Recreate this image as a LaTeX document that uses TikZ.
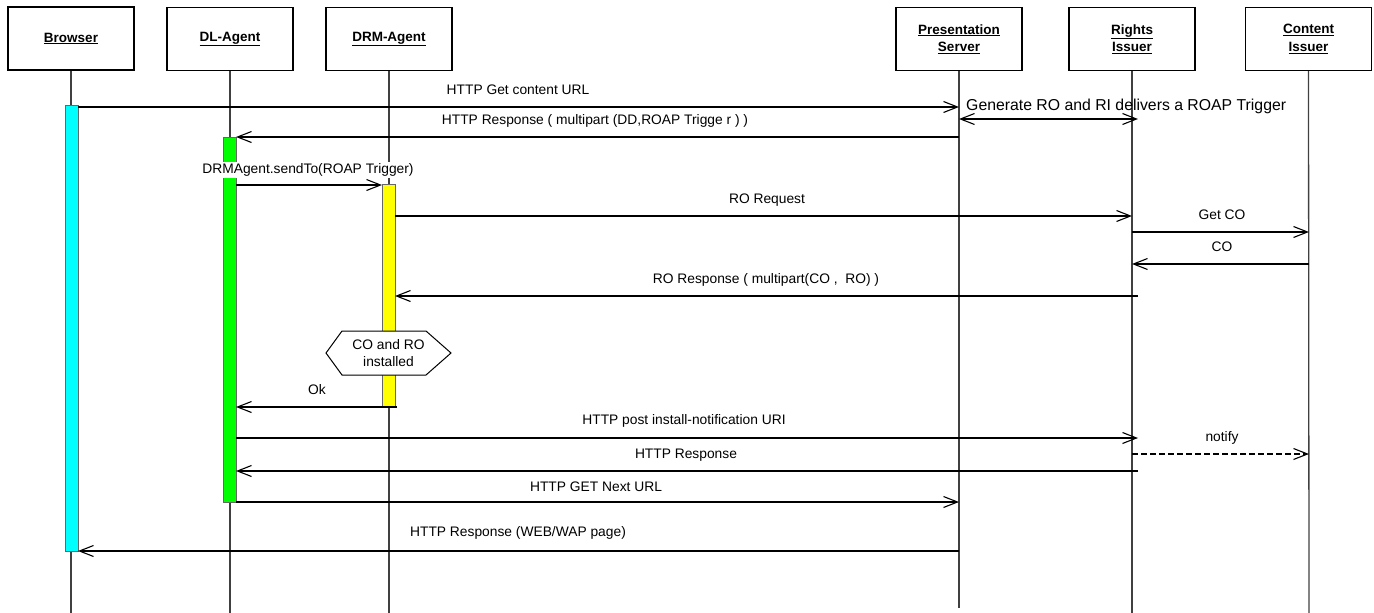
\documentclass[tikz,border=0pt]{standalone}
\usepackage{fontspec}
\setmainfont{Liberation Sans}
\usetikzlibrary{arrows.meta}
\definecolor{barcyan}{RGB}{0,255,255}
\definecolor{bargreen}{RGB}{0,255,0}
\definecolor{baryellow}{RGB}{255,255,0}
\begin{document}
\begin{tikzpicture}[x=1pt,y=-1pt,
  head/.style={draw, line width=1.2pt, minimum width=126pt, minimum height=63pt, inner sep=0pt, align=center, font=\fontsize{13.5}{17.5}\selectfont\bfseries},
  life/.style={draw=black!75, line width=1.3pt},
  msg/.style={line width=1.1pt, -{Straight Barb[length=14pt,width=11pt]}},
  dmsg/.style={line width=1.1pt, {Straight Barb[length=14pt,width=11pt]}-{Straight Barb[length=14pt,width=11pt]}},
  dashmsg/.style={line width=2pt, dash pattern=on 6pt off 3pt, -{Straight Barb[length=14pt,width=11pt,line width=1.1pt]}},
  lbl/.style={font=\fontsize{13.8}{16}\selectfont, inner sep=0pt},
  biglbl/.style={font=\fontsize{15.8}{18}\selectfont, inner sep=0pt},
  actbar/.style={draw=black!60, line width=1pt, minimum width=13pt, inner sep=0pt}]
\useasboundingbox (0,0) rectangle (1374,613);

% heads
\node[head] (br) at (71,38.5) {\underline{Browser}};
\node[head] (dl) at (230,39) {\underline{DL-Agent}};
\node[head] (drm) at (389,39) {\underline{DRM-Agent}};
\node[head] (ps) at (959,39) {\underline{Presentation}\\\underline{Server}};
\node[head] (ri) at (1132,39) {\underline{Rights}\\\underline{Issuer}};
\node[head] (ci) at (1308.5,39) {\underline{Content}\\\underline{Issuer}};

% lifeline ends
\coordinate (brE) at (71,613);
\coordinate (dlE) at (230,613);
\coordinate (drmE) at (389,613);
\coordinate (psE) at (959,608);
\coordinate (riE) at (1132,613);
\coordinate (ciE) at (1309,613);
\draw[life] (br.south) -- (brE);
\draw[life] (dl.south) -- (dlE);
\draw[life] (drm.south) -- (drmE);
\draw[life] (ps.south) -- (psE);
\draw[life] (ri.south) -- (riE);
\draw[life] (ci.south) -- (ciE);

% activation bars
\node[actbar, fill=barcyan, minimum height=446pt] (barB) at (71.5,328) {};
\node[actbar, fill=bargreen, minimum height=365pt] (barD) at (229.5,319.5) {};
\node[actbar, fill=baryellow, minimum height=223pt] (barR) at (388.5,295.5) {};

% message end points
\coordinate (m1s) at (78,107);   \coordinate (m1e) at (959,107);
\coordinate (m2s) at (959,119);  \coordinate (m2e) at (1138,119);
\coordinate (m3s) at (959,137);  \coordinate (m3e) at (236,137);
\coordinate (m4s) at (236,185);  \coordinate (m4e) at (382,185);
\coordinate (m5s) at (395,216);  \coordinate (m5e) at (1132,216);
\coordinate (m6s) at (1132,232); \coordinate (m6e) at (1309,232);
\coordinate (m7s) at (1309,264); \coordinate (m7e) at (1132,264);
\coordinate (m8s) at (1138,296); \coordinate (m8e) at (395,296);
\coordinate (m10s) at (397,407); \coordinate (m10e) at (236,407);
\coordinate (m11s) at (236,438); \coordinate (m11e) at (1138,438);
\coordinate (m12s) at (1132,454); \coordinate (m12e) at (1309,454);
\coordinate (m13s) at (1138,471); \coordinate (m13e) at (236,471);
\coordinate (m14s) at (236,502); \coordinate (m14e) at (959,502);
\coordinate (m15s) at (959,551); \coordinate (m15e) at (78,551);

% messages
\draw[msg] (m1s) -- (m1e);
\node[lbl] (l1) at (518,90) {HTTP Get content URL};
\draw[dmsg] (m2s) -- (m2e);
\node[biglbl, anchor=west] (l2) at (966,106) {Generate RO and RI delivers a ROAP Trigger};
\draw[msg] (m3s) -- (m3e);
\node[lbl] (l3) at (595,121) {HTTP Response ( multipart (DD,ROAP Trigge r ) )};
\draw[msg] (m4s) -- (m4e);
\node[lbl, fill=white, inner xsep=1pt, inner ysep=2pt] (l4) at (308,170) {DRMAgent.sendTo(ROAP Trigger)};
\draw[msg] (m5s) -- (m5e);
\node[lbl] (l5) at (767,200) {RO Request};
\draw[msg] (m6s) -- (m6e);
\node[lbl] (l6) at (1222,215) {Get CO};
\draw[msg] (m7s) -- (m7e);
\node[lbl] (l7) at (1222,247) {CO};
\draw[msg] (m8s) -- (m8e);
\node[lbl] (l8) at (766,280) {RO Response ( multipart(CO ,\ \ RO) )};

% state hexagon
\draw[line width=1pt, fill=white] (326,353) -- (342,331) -- (426,331) -- (451,353) -- (426,375) -- (342,375) -- cycle;
\node[lbl, align=center, font=\fontsize{13.8}{17}\selectfont] (st) at (388.5,353) {CO and RO\\installed};

\draw[msg] (m10s) -- (m10e);
\node[lbl] (l10) at (317,390) {Ok};
\draw[msg] (m11s) -- (m11e);
\node[lbl] (l11) at (684,421) {HTTP post install-notification URI};
\draw[dashmsg] (m12s) -- (m12e);
\node[lbl] (l12) at (1222,438) {notify};
\draw[msg] (m13s) -- (m13e);
\node[lbl] (l13) at (686,455) {HTTP Response};
\draw[msg] (m14s) -- (m14e);
\node[lbl] (l14) at (596,487) {HTTP GET Next URL};
\draw[msg] (m15s) -- (m15e);
\node[lbl] (l15) at (518,533) {HTTP Response (WEB/WAP page)};
\end{tikzpicture}
\end{document}
